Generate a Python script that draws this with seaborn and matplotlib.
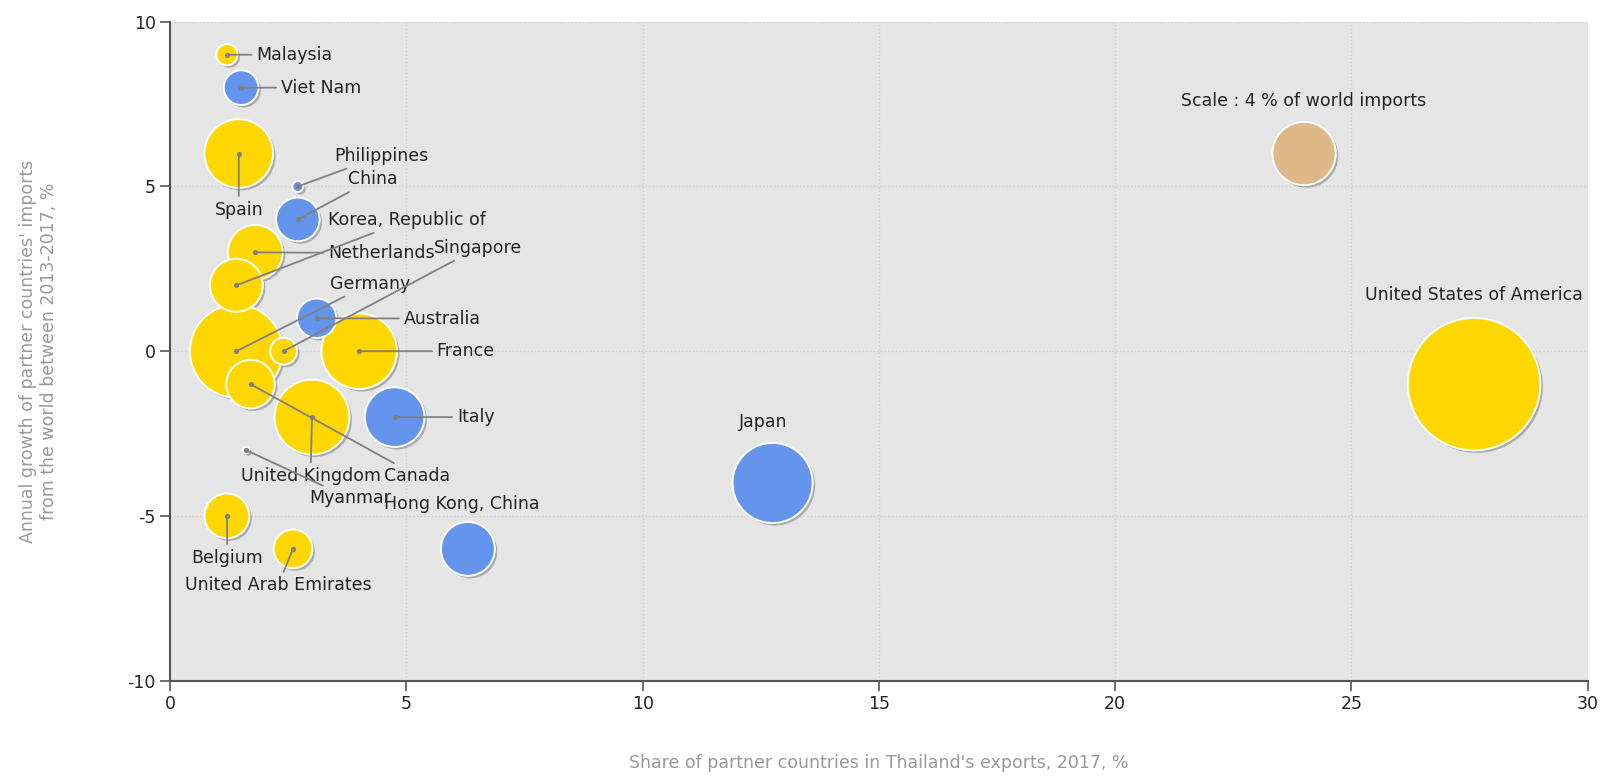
import matplotlib
matplotlib.use("Agg")
import matplotlib.pyplot as plt
import matplotlib.patheffects as pe
import pandas as pd
import seaborn as sns

# ---------------------------------------------- DATA ----------------------------------------------
countries = ["Malaysia", "Viet Nam", "Spain", "Philippines", "China", "Netherlands",
             "Korea, Republic of", "Germany", "Singapore", "Australia", "France",
             "Canada", "United Kingdom", "Italy", "Myanmar", "Belgium",
             "United Arab Emirates", "Hong Kong, China", "Japan", "United States of America"]
# share of partner in Thailand's exports, 2017 (%)
export_share = [1.2, 1.5, 1.45, 2.7, 2.7, 1.8, 1.4, 1.4, 2.4, 3.1, 4.0,
                1.7, 3.0, 4.75, 1.6, 1.2, 2.6, 6.3, 12.75, 27.6]
# annual growth of partner imports from the world 2013-2017 (%)
import_growth = [9, 8, 6, 5, 4, 3, 2, 0, 0, 1, 0,
                 -1, -2, -2, -3, -5, -6, -6, -4, -1]
# bubble size: share in world imports (%)
world_share = [0.45, 1.2, 4.7, 0.12, 1.9, 3.0, 2.8, 8.6, 0.72, 1.55, 5.7,
               2.35, 5.6, 3.55, 0.04, 2.0, 1.5, 2.9, 6.4, 17.5]
group = ["up", "down", "up", "down", "down", "up", "up", "up", "up", "down", "up",
         "up", "up", "down", "up", "up", "up", "down", "down", "up"]

scale_x = [24.0]
scale_y = [6.0]
scale_size = [4.0]
scale_text = "Scale : 4 % of world imports"

x_ticks = [0, 5, 10, 15, 20, 25, 30]
y_ticks = [-10, -5, 0, 5, 10]

# label placement: (x, y, ha, leader line?)
label_pos = {
    "Malaysia": (1.82, 9.0, "left", True),
    "Viet Nam": (2.34, 8.0, "left", True),
    "Spain": (1.45, 4.3, "center", True),
    "Philippines": (3.47, 5.93, "left", True),
    "China": (3.77, 5.22, "left", True),
    "Korea, Republic of": (3.34, 3.98, "left", True),
    "Netherlands": (3.34, 2.98, "left", True),
    "Singapore": (5.59, 3.14, "left", True),
    "Germany": (3.38, 2.05, "left", True),
    "Australia": (4.94, 0.99, "left", True),
    "France": (5.64, 0.0, "left", True),
    "Italy": (6.07, -2.0, "left", True),
    "United Kingdom": (2.97, -3.79, "center", True),
    "Canada": (4.53, -3.79, "left", True),
    "Myanmar": (2.95, -4.47, "left", True),
    "Hong Kong, China": (4.53, -4.63, "left", False),
    "Belgium": (1.21, -6.27, "center", True),
    "United Arab Emirates": (2.28, -7.11, "center", True),
    "Japan": (12.55, -2.14, "center", False),
    "United States of America": (27.6, 1.71, "center", False),
}

palette = {"up": "#FFD700", "down": "#6495ED", "scale": "#DEB887"}
S_MAX = 10400   # marker area (pt^2) for 20 % of world imports


def main():
    df = pd.DataFrame({"country": countries, "x": export_share, "y": import_growth,
                       "size": world_share, "group": group})
    df = df.sort_values("size", ascending=False)
    scale_df = pd.DataFrame({"x": scale_x, "y": scale_y, "size": scale_size, "group": ["scale"]})

    sns.set_style("white")
    plt.rcParams["font.family"] = ["DejaVu Sans"]
    plt.rcParams["axes.unicode_minus"] = False

    fig = plt.figure(figsize=(16.06, 7.77), dpi=100)
    ax = fig.add_axes([0.106, 0.124, 0.8825, 0.848])
    ax.set_facecolor("#E5E5E5")

    shadow = [pe.SimplePatchShadow(offset=(1.8, -1.8), shadow_rgbFace="#7a7a7a", alpha=0.55), pe.Normal()]

    for d in (df, scale_df):
        sns.scatterplot(data=d, x="x", y="y", hue="group", palette=palette, size="size",
                        sizes=(0, S_MAX), size_norm=(0, 20), legend=False,
                        edgecolor="white", linewidth=1.4, ax=ax, zorder=3)
        ax.collections[-1].set_path_effects(shadow)

    # leader lines and labels
    lead = df[df["country"].map(lambda c: label_pos[c][3])]
    for _, row in df.iterrows():
        lx, ly, ha, leader = label_pos[row["country"]]
        arrow = dict(arrowstyle="-", color="#808080", lw=1.3, shrinkA=1, shrinkB=0) if leader else None
        ax.annotate(row["country"], xy=(row["x"], row["y"]), xytext=(lx, ly),
                    ha=ha, va="center", fontsize=12.5, color="#222222",
                    arrowprops=arrow, zorder=5, annotation_clip=False)
    sns.scatterplot(data=lead, x="x", y="y", color="#808080", s=14, linewidth=0,
                    legend=False, ax=ax, zorder=6)

    ax.text(scale_x[0], 7.6, scale_text, ha="center", va="center", fontsize=12.5, color="#222222")

    ax.set_xlim(0, 30)
    ax.set_ylim(-10, 10)
    ax.set_xticks(x_ticks)
    ax.set_yticks(y_ticks)
    ax.grid(True, color="#cfcfcf", linestyle=":", linewidth=1)
    ax.set_axisbelow(True)
    for s in ["top", "right"]:
        ax.spines[s].set_visible(False)
    for s in ["left", "bottom"]:
        ax.spines[s].set_color("#555555")
        ax.spines[s].set_linewidth(1.5)
    ax.tick_params(axis="both", direction="out", length=7, width=1.2, color="#555555",
                   labelsize=12.5, labelcolor="#222222", left=True, bottom=True)

    ax.set_xlabel("Share of partner countries in Thailand's exports, 2017, %",
                  fontsize=12.5, color="#999999", labelpad=29)
    ax.set_ylabel("Annual growth of partner countries' imports\nfrom the world between 2013-2017, %",
                  fontsize=12.5, color="#999999", labelpad=50)

    fig.savefig("out.png", dpi=100)


if __name__ == "__main__":
    main()
